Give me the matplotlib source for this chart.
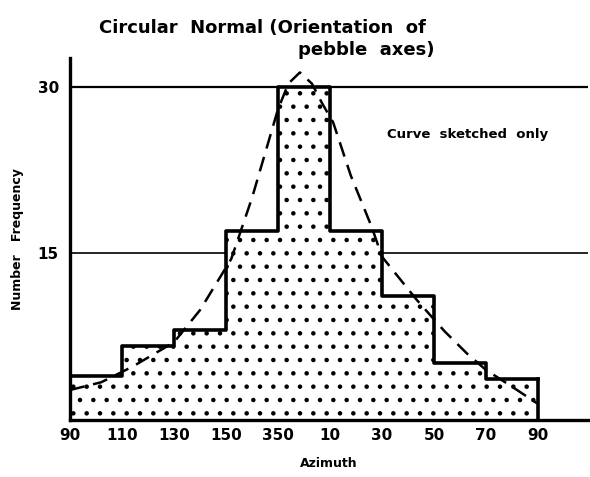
import matplotlib
matplotlib.use("Agg")
import matplotlib.pyplot as plt
import numpy as np

DPI = 80
S = 100 / DPI  # keep sizes as they look at 100 dpi
plt.rcParams['hatch.linewidth'] = 1.3 * S

# Data
tick_labels = ["90", "110", "130", "150", "350", "10", "30", "50", "70", "90"]
frequency = [4, 6.7, 8.1, 17, 30, 17, 11.2, 5.1, 3.7]
curve_x = [0.0, 0.6, 1.2, 2.0, 2.5, 3.1, 3.5, 4.0, 4.2, 4.42, 4.65, 4.85, 5.06, 5.4, 5.8, 6.0, 6.67, 7.2, 7.63, 8.0, 8.5, 8.98]
curve_y = [2.7, 3.4, 4.8, 7.0, 9.9, 14.5, 20.0, 28.0, 30.3, 31.3, 30.3, 28.5, 26.8, 22.0, 17.4, 14.7, 10.8, 8.0, 6.0, 4.5, 3.0, 1.5]
gridlines = [15, 30]

fig = plt.figure(figsize=(590 / DPI, 477 / DPI), dpi=DPI)
ax = fig.add_axes([70/590, 1-420/477, 518/590, 362/477])

edges = np.arange(len(frequency) + 1)
yy = frequency + [frequency[-1]]

for g in gridlines:
    ax.axhline(g, color='black', lw=(1.6 if g == 30 else 1.2) * S, zorder=1)

ax.fill_between(edges, 0, yy, step='post', facecolor='white', edgecolor='black',
                hatch='.', linewidth=0, zorder=2)
ax.step(edges, yy, where='post', color='black', lw=2.6 * S, zorder=3)
ax.plot([edges[-1], edges[-1]], [0, yy[-1]], color='black', lw=2.6 * S, zorder=3)
ax.plot([0, 0], [0, yy[0]], color='black', lw=2.6 * S, zorder=3)

ax.plot(curve_x, curve_y, color='black', lw=1.8 * S, dashes=(6, 3.5), zorder=4)

ax.set_xlim(0, 9.96)
ax.set_ylim(0, 32.6)
for s in ['top', 'right']:
    ax.spines[s].set_visible(False)
for s in ['left', 'bottom']:
    ax.spines[s].set_linewidth(2.4 * S)

ax.set_xticks(edges)
ax.set_xticklabels(tick_labels, fontsize=11 * S, fontweight='bold')
ax.tick_params(axis='x', direction='in', length=4 * S, width=1.5 * S, pad=6 * S)
ax.set_yticks(gridlines)
ax.set_yticklabels(["15", "30"], fontsize=11 * S, fontweight='bold')
ax.tick_params(axis='y', length=0, pad=8 * S)

ax.set_xlabel("Azimuth", fontsize=9 * S, fontweight='bold', labelpad=10 * S)
ax.set_ylabel("Number   Frequency", fontsize=9 * S, fontweight='bold', labelpad=10 * S)

ax.text(7.65, 25.7, "Curve  sketched  only", fontsize=9.5 * S, fontweight='bold',
        ha='center', va='center')

fig.text(262/590, 1-28/477, "Circular  Normal (Orientation  of", fontsize=13 * S,
         fontweight='bold', ha='center', va='center')
fig.text(435/590, 1-50/477, "pebble  axes)", fontsize=13 * S,
         fontweight='bold', ha='right', va='center')

fig.savefig("out.png", dpi=DPI)
